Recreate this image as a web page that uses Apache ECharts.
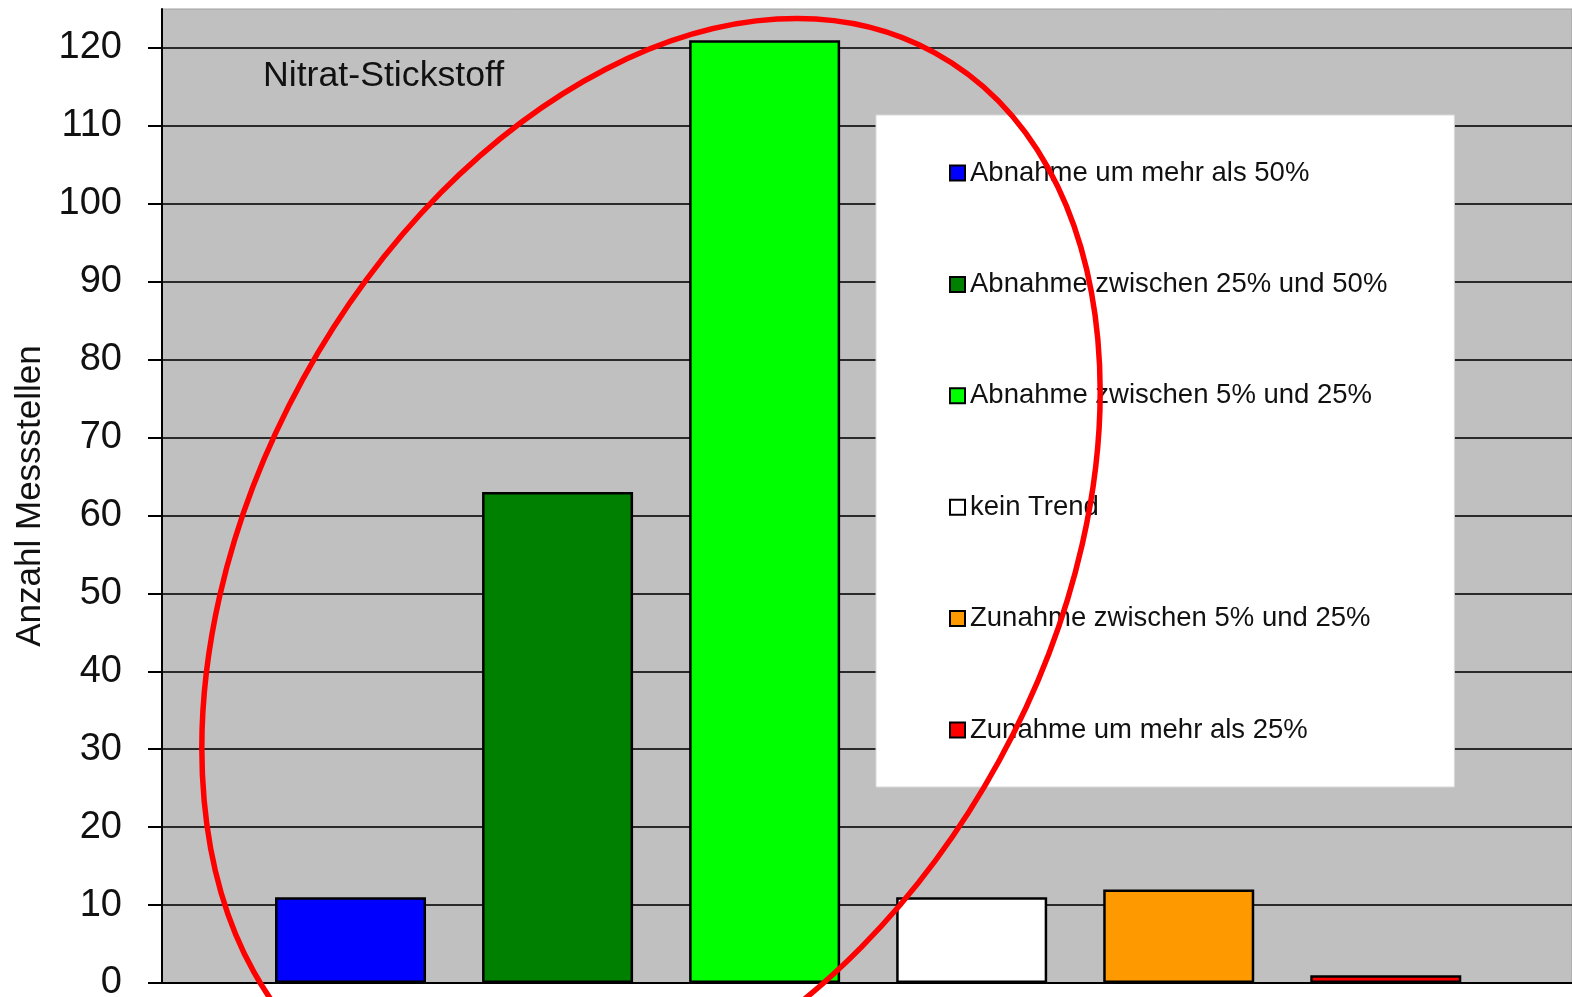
<!DOCTYPE html>
<html>
<head>
<meta charset="utf-8">
<title>Nitrat-Stickstoff</title>
<script src="https://cdn.jsdelivr.net/npm/echarts@6/dist/echarts.min.js"></script>
<style>
	html, body { margin: 0; padding: 0; background: #fff; }
	#trendChart { width: 1572px; height: 997px; }
</style>
</head>
<body>
<div id="trendChart"></div>
<script>
// Trendklassen und Anzahl der Messstellen
var categories = ['Abnahme um mehr als 50%', 'Abnahme zwischen 25% und 50%', 'Abnahme zwischen 5% und 25%', 'kein Trend', 'Zunahme zwischen 5% und 25%', 'Zunahme um mehr als 25%'];
var counts = [11, 63, 121, 11, 12, 1];
var yTicks = [0, 10, 20, 30, 40, 50, 60, 70, 80, 90, 100, 110, 120];
var barColors = ['#0000ff', '#008000', '#00ff00', '#ffffff', '#ff9900', '#ff0000'];
var yAreaMax = 125;
var yStep = 10;

var TrendChart = {
	font: "'Liberation Sans', Arial, sans-serif",
	init: function() {
		this.chart = echarts.init(document.getElementById('trendChart'), null, { renderer: 'canvas' });
		this.chart.setOption(this.buildOption());
	},
	//je Klasse eine Serie, damit die Legende alle Farben zeigt
	buildSeries: function() {
		var list = [];
		for(var i = 0; i < categories.length; i++) {
			var data = counts.map(function(v, j) {
				return j === i ? v : '-';
			});
			list.push({
				name: categories[i],
				type: 'bar',
				stack: 'trend',
				xAxisIndex: 1,
				yAxisIndex: 1,
				barWidth: 151,
				data: data,
				itemStyle: {
					color: barColors[i],
					borderColor: '#000',
					borderWidth: 2.5
				},
				emphasis: { disabled: true }
			});
		}
		return list;
	},
	buildOption: function() {
		var font = this.font;
		return {
			animation: false,
			backgroundColor: '#fff',
			title: {
				text: 'Nitrat-Stickstoff',
				left: 263,
				top: 58,
				padding: 0,
				textStyle: { fontFamily: font, fontSize: 35.7, fontWeight: 'normal', color: '#111' }
			},
			legend: {
				orient: 'vertical',
				left: 876,
				top: 115,
				padding: [44, 67, 43, 73],
				itemGap: 83.4,
				itemWidth: 15,
				itemHeight: 15,
				icon: 'rect',
				selectedMode: false,
				backgroundColor: '#fff',
				borderColor: '#d9d9d9',
				borderWidth: 1,
				textStyle: { fontFamily: font, fontSize: 27.5, color: '#111', lineHeight: 27 },
				data: categories
			},
			grid: [{
				left: 162, right: 0, top: 9, bottom: 14,
				show: true,
				backgroundColor: '#c0c0c0',
				borderColor: '#a0a0a0',
				borderWidth: 1,
				outerBoundsMode: 'none'
			}, {
				left: 247, right: 82.7, top: 9, bottom: 14,
				outerBoundsMode: 'none'
			}],
			xAxis: [{
				type: 'value',
				gridIndex: 0,
				min: 0,
				max: 1,
				axisLine: { show: true, lineStyle: { color: '#000', width: 2 } },
				axisTick: { show: false },
				axisLabel: { show: false },
				splitLine: { show: false }
			}, {
				type: 'category',
				gridIndex: 1,
				data: categories,
				axisLine: { show: false },
				axisTick: { show: false },
				axisLabel: { show: false },
				splitLine: { show: false }
			}],
			yAxis: [{
				type: 'value',
				gridIndex: 0,
				min: 0,
				max: yAreaMax,
				interval: yStep,
				name: 'Anzahl Messstellen',
				nameLocation: 'middle',
				nameGap: 112,
				nameRotate: 90,
				nameTextStyle: { fontFamily: font, fontSize: 35, color: '#111' },
				axisLine: { show: true, lineStyle: { color: '#000', width: 2 } },
				axisTick: {
					show: true,
					inside: false,
					length: 14,
					customValues: yTicks,
					lineStyle: { color: '#000', width: 2 }
				},
				axisLabel: {
					fontFamily: font,
					fontSize: 38,
					color: '#111',
					margin: 40,
					customValues: yTicks
				},
				splitLine: {
					show: true,
					lineStyle: { color: '#2a2a2a', width: 2 }
				}
			}, {
				type: 'value',
				gridIndex: 1,
				min: 0,
				max: yAreaMax,
				interval: yStep,
				show: false
			}],
			graphic: [{
				// rote Markierung
				type: 'ellipse',
				x: 651,
				y: 570,
				rotation: -0.502,
				shape: { cx: 0, cy: 0, rx: 397, ry: 590 },
				style: { fill: null, stroke: '#ff0000', lineWidth: 5.5 },
				z: 100,
				silent: true
			}],
			series: this.buildSeries()
		};
	}
};

TrendChart.init();
</script>
</body>
</html>
